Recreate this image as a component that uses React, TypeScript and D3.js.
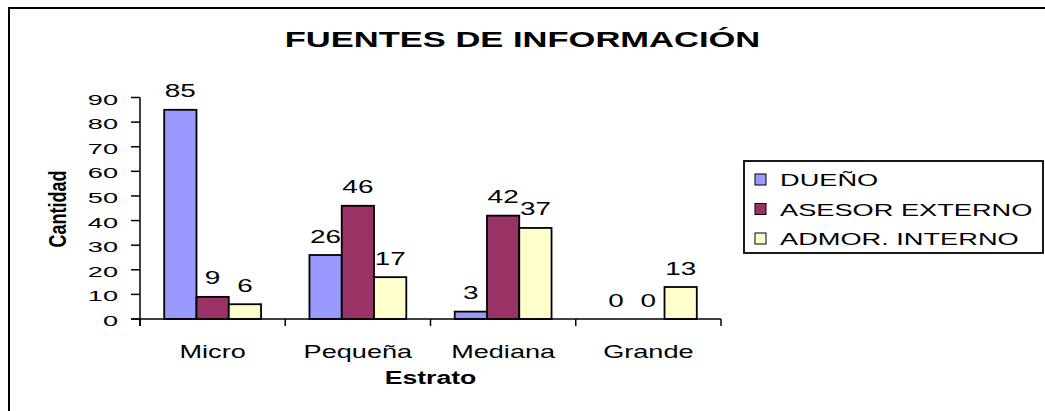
import React from "react";
import * as d3 from "d3";

const categories = ["Micro", "Pequeña", "Mediana", "Grande"];
const seriesNames = ["DUEÑO", "ASESOR EXTERNO", "ADMOR. INTERNO"];
const dueno = [85, 26, 3, 0];
const asesor = [9, 46, 42, 0];
const admor = [6, 17, 37, 13];
const yTicks = [0, 10, 20, 30, 40, 50, 60, 70, 80, 90];
const colors = ["#9999FF", "#993366", "#FFFFCC"];
const title = "FUENTES DE INFORMACIÓN";
const xTitle = "Estrato";
const yTitle = "Cantidad";

const FONT = "'Liberation Sans', Arial, Helvetica, sans-serif";

function T({ x, y, sx = 1.6, size, bold = false, anchor = "start", rotate = 0, children }: any) {
  return (
    <text
      transform={`translate(${x},${y}) scale(${sx},1)${rotate ? ` rotate(${rotate})` : ""}`}
      fontFamily={FONT}
      fontSize={size}
      fontWeight={bold ? "bold" : "normal"}
      textAnchor={anchor}
      fill="#000"
    >
      {children}
    </text>
  );
}

export default function App() {
  const W = 1045;
  const H = 411;
  const plot = { left: 140, right: 721, top: 97.5, bottom: 319 };
  const series = [dueno, asesor, admor];

  const x0 = d3.scaleBand<string>().domain(categories).range([plot.left, plot.right]).padding(0);
  const bw = x0.bandwidth();
  const gap = (bw / 4.5) * 1.5;
  const x1 = d3
    .scaleBand<number>()
    .domain(d3.range(series.length))
    .range([gap / 2, bw - gap / 2])
    .padding(0);
  const y = d3.scaleLinear().domain([0, 90]).range([plot.bottom, plot.top]);

  const boundaries = [...categories.map((c) => x0(c) as number), plot.right];

  return (
    <svg
      width={W}
      height={H}
      style={{ position: "absolute", left: 0, top: 0, background: "#fff" }}
    >
      <rect x={0} y={0} width={W} height={H} fill="#fff" />
      {/* outer frame */}
      <rect x={9} y={8} width={W + 20} height={H + 20} fill="none" stroke="#000" strokeWidth={2} />

      {/* title */}
      <T x={522.5} y={46.7} sx={1.57} size={22} bold anchor="middle">
        {title}
      </T>

      {/* bars */}
      {categories.map((c, ci) => (
        <g key={c}>
          {series.map((s, si) => {
            const v = s[ci];
            const bx = (x0(c) as number) + (x1(si) as number);
            const w = x1.bandwidth();
            return (
              <g key={si}>
                {v > 0 && (
                  <rect
                    x={bx}
                    y={y(v)}
                    width={w}
                    height={y(0) - y(v)}
                    fill={colors[si]}
                    stroke="#000"
                    strokeWidth={1.8}
                  />
                )}
                <T x={bx + w / 2} y={y(v) - 12.5} sx={1.55} size={18} anchor="middle">
                  {String(v)}
                </T>
              </g>
            );
          })}
        </g>
      ))}

      {/* y axis */}
      <line x1={plot.left} x2={plot.left} y1={plot.top} y2={plot.bottom + 7} stroke="#000" strokeWidth={1.5} />
      {yTicks.map((t) => (
        <g key={t}>
          <line x1={plot.left - 9} x2={plot.left} y1={y(t)} y2={y(t)} stroke="#000" strokeWidth={1.5} />
          <T x={118} y={y(t) + 7} sx={1.75} size={15.5} anchor="end">
            {String(t)}
          </T>
        </g>
      ))}

      {/* x axis */}
      <line x1={plot.left - 9} x2={plot.right} y1={plot.bottom} y2={plot.bottom} stroke="#000" strokeWidth={1.5} />
      {boundaries.map((b, i) => (
        <line key={i} x1={b} x2={b} y1={plot.bottom} y2={plot.bottom + 7} stroke="#000" strokeWidth={1.5} />
      ))}
      {categories.map((c) => (
        <T key={c} x={(x0(c) as number) + bw / 2} y={358} sx={1.55} size={17.5} anchor="middle">
          {c}
        </T>
      ))}

      {/* axis titles */}
      <T x={(plot.left + plot.right) / 2} y={383.5} sx={1.48} size={18} bold anchor="middle">
        {xTitle}
      </T>
      <T x={66} y={209} sx={1.3} size={18} bold anchor="middle" rotate={-90}>
        {yTitle}
      </T>

      {/* legend */}
      <rect x={744} y={161} width={299} height={92} fill="#fff" stroke="#000" strokeWidth={1.8} />
      {seriesNames.map((n, i) => {
        const by = 186 + i * 29.5;
        return (
          <g key={n}>
            <rect x={755} y={by - 12} width={11} height={11} fill={colors[i]} stroke="#000" strokeWidth={1} />
            <T x={780} y={by} sx={1.6} size={17}>
              {n}
            </T>
          </g>
        );
      })}
    </svg>
  );
}
